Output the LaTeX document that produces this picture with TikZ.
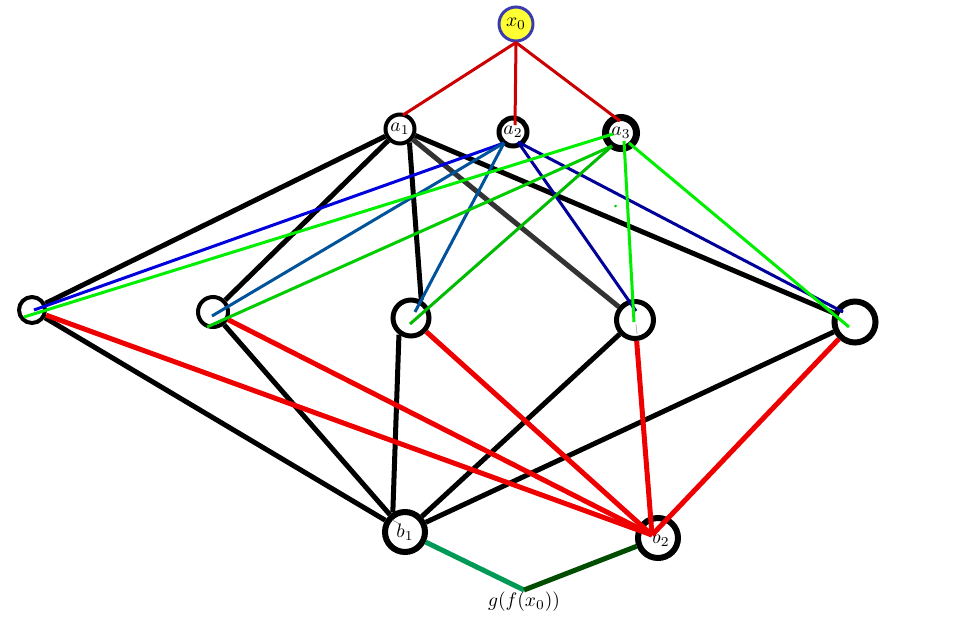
\documentclass[tikz,border=0pt]{standalone}
\usepackage{graphicx}
\usetikzlibrary{calc}
\definecolor{topred}{HTML}{CC0000}
\definecolor{lowred}{HTML}{EE0000}
\definecolor{blueA}{HTML}{0000DD}
\definecolor{blueB}{HTML}{00529B}
\definecolor{blueC}{HTML}{000099}
\definecolor{greenA}{HTML}{00EE00}
\definecolor{greenB}{HTML}{00CC00}
\definecolor{greenC}{HTML}{00BB00}
\definecolor{gmid}{HTML}{009955}
\definecolor{gdark}{HTML}{004D00}
\definecolor{xborder}{HTML}{3B3BB0}
\definecolor{xfill}{HTML}{FFFF33}
\newcommand{\vlabel}[1]{\scalebox{1.95}{$#1$}}
\begin{document}
\begin{tikzpicture}[x=1pt,y=-1pt,
  vtx/.style={circle, draw=black, fill=white, inner sep=0pt},
  thickblack/.style={line width=5pt, black},
  thinline/.style={line width=3pt},
  lowredline/.style={line width=5pt, lowred},
  ]
\useasboundingbox (0,0) rectangle (974,622);
% nodes
\node[vtx, draw=xborder, fill=xfill, line width=3pt, minimum size=34pt] (x0) at (516,24) {\vlabel{x_0}};
\node[vtx, line width=4pt, minimum size=29pt] (a1) at (400,129) {\vlabel{a_1}};
\node[vtx, line width=5pt, minimum size=28pt] (a2) at (513,132) {\vlabel{a_2}};
\node[vtx, line width=7pt, minimum size=31pt] (a3) at (621,133) {\vlabel{a_3}};
\node[vtx, line width=4pt, minimum size=26pt] (L1) at (32,310) {};
\node[vtx, line width=4pt, minimum size=30pt] (L2) at (213,312) {};
\node[vtx, line width=5pt, minimum size=36pt] (M) at (411,318) {};
\node[vtx, line width=5pt, minimum size=37pt] (R1) at (635,320) {};
\node[vtx, line width=6pt, minimum size=41pt] (R2) at (855,322) {};
\node[vtx, line width=6pt, minimum size=40pt] (b1) at (405,532) {\vlabel{b_1}};
\node[vtx, line width=6pt, minimum size=40pt] (b2) at (658,538) {\hspace*{6pt}\raisebox{-3pt}{\vlabel{b_2}}};
\coordinate (g) at (524,590);
\node[anchor=north, inner sep=1pt] (glabel) at (524,591) {\vlabel{g(f(x_0))}};

% top red
\draw[thinline, topred] (x0.south) -- ($(a1)+(3,-14)$);
\draw[thinline, topred] (x0.south) -- ($(a2)+(2,-7)$);
\draw[thinline, topred] (x0.south) -- ($(a3)+(-1,-12)$);

% black from a1
\draw[thickblack] (a1) -- (L1);
\draw[thickblack] (a1) -- (L2);
\draw[thickblack] (a1.-55) -- (M.60);
\draw[line width=5pt, black!80] (a1) -- (R1);
\draw[thickblack] (a1) -- (R2);

% lower black to b1
\draw[thickblack] (L1) -- (b1);
\draw[thickblack] (L2) -- (b1);
\draw[thickblack] (M.-126) -- (b1.122);
\draw[thickblack] (R1) -- (b1);
\draw[thickblack] (R2) -- (b1);

% lower red to b2
\coordinate (b2in) at ($(b2)+(-6,-3)$);
\draw[lowredline] (L1) -- (b2in);
\draw[lowredline] (L2) -- (b2in);
\draw[lowredline] (M) -- (b2in);
\draw[lowredline] (R1) -- (b2in);
\draw[lowredline] (R2) -- (b2in);

% blue from a2
\coordinate (a2l) at ($(a2)+(-9,11)$);
\coordinate (a2r) at ($(a2)+(5,10)$);
\draw[thinline, blueA] (a2l) -- ($(L1)+(2,0)$);
\draw[thinline, blueB] (a2l) -- ($(L2)+(-1,4)$);
\draw[thinline, blueB] (a2l) -- ($(M)+(4,-6)$);
\draw[thinline, blueC] (a2r) -- ($(R1)+(1,-9)$);
\draw[thinline, blueC] (a2r) -- ($(R2)+(-12,-10)$);

% green from a3
\draw[thinline, greenA] ($(a3)+(-8,1)$) -- ($(L1)+(-8,7)$);
\draw[thinline, greenB] ($(a3)+(-9,13)$) -- ($(L2)+(-6,15)$);
\draw[thinline, greenC] ($(a3)+(-9,13)$) -- ($(M)+(-1,6)$);
\draw[thinline, greenA] ($(a3)+(3,8)$) -- ($(R1)+(-1,2)$);
\draw[thinline, greenA] ($(a3)+(8,10)$) -- ($(R2)+(-6,5)$);
\draw[line width=2pt, greenB] (615,207) -- (616,205);

% small gray marks
\draw[line width=0.6pt, gray] ($(b1)+(-13,-12)$) -- ($(b1)+(-5,-8)$);
\draw[line width=0.8pt, gray!60] ($(R1)+(1,4)$) -- ($(R1)+(2,14)$);

% bottom green
\draw[line width=5pt, gmid] (b1) -- (g);
\draw[line width=5pt, gdark] (b2) -- (g);
\end{tikzpicture}
\end{document}
